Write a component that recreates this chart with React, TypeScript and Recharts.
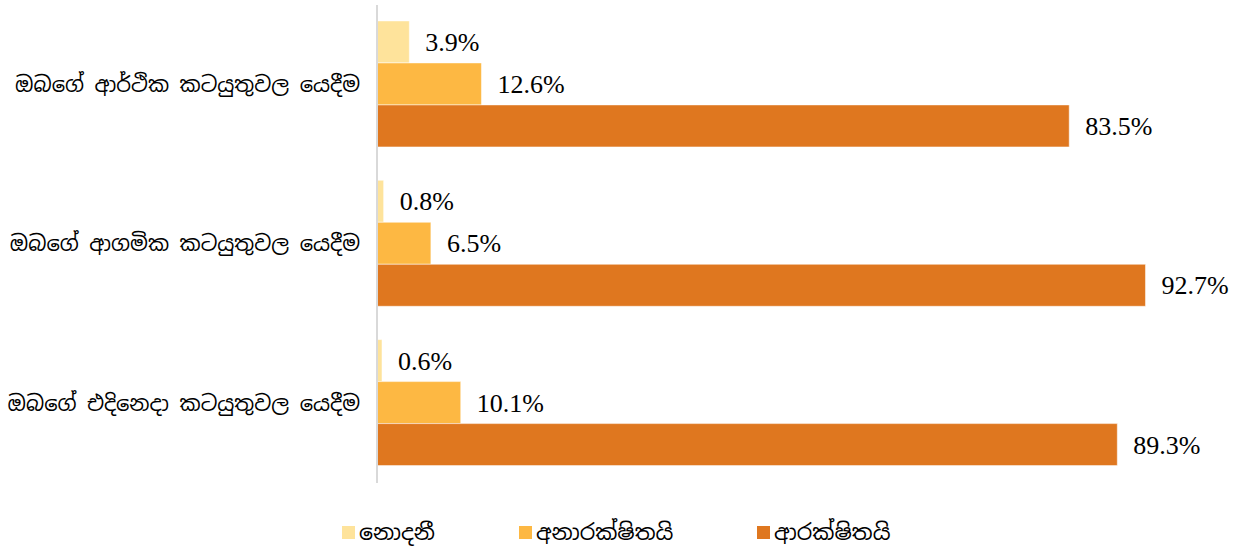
import React from "react";
import { BarChart, Bar, XAxis, YAxis, LabelList, Legend } from "recharts";

const categories = [
  "ඔබගේ ආර්ථික කටයුතුවල යෙදීම",
  "ඔබගේ ආගමික කටයුතුවල යෙදීම",
  "ඔබගේ එදිනෙදා කටයුතුවල යෙදීම",
];
const dontKnow = [3.9, 0.8, 0.6];
const unsafe = [12.6, 6.5, 10.1];
const safe = [83.5, 92.7, 89.3];

const seriesNames = ["නොදනී", "අනාරක්ෂිතයි", "ආරක්ෂිතයි"];
const colors = ["#FEE39B", "#FDB843", "#DF771F"];

const data = categories.map((name, i) => ({
  name,
  dontKnow: dontKnow[i],
  unsafe: unsafe[i],
  safe: safe[i],
}));

const sinhala = "'Noto Sans Sinhala', 'Iskoola Pota', 'Noto Serif Sinhala', sans-serif";
const serif = "'Liberation Serif', 'Times New Roman', serif";

const legendX = [342, 519, 757];

function LegendBox() {
  return (
    <div style={{ position: "relative", width: 1239, height: 30 }}>
      {seriesNames.map((n, i) => (
        <div
          key={n}
          style={{
            position: "absolute",
            left: legendX[i],
            top: 0,
            height: 30,
            display: "flex",
            alignItems: "center",
            fontFamily: sinhala,
            fontSize: 22,
            color: "#000",
            whiteSpace: "nowrap",
          }}
        >
          <span style={{ width: 13, height: 13, background: colors[i], marginRight: 4, display: "inline-block" }} />
          {n}
        </div>
      ))}
    </div>
  );
}

export default function App() {
  const fmt = (v: number) => `${v.toFixed(1)}%`;
  const labelStyle = { fontFamily: serif, fontSize: 26, fill: "#000" };
  return (
    <div style={{ position: "fixed", top: 0, left: 0, width: 1239, height: 547, background: "#fff" }}>
      <BarChart
        width={1239}
        height={547}
        data={data}
        layout="vertical"
        margin={{ top: 5, right: 33, left: 0, bottom: 34 }}
        barCategoryGap="10%"
        barGap={0}
      >
        <XAxis type="number" domain={[0, 100]} hide />
        <YAxis
          type="category"
          dataKey="name"
          width={377}
          tickLine={false}
          axisLine={{ stroke: "#D9D9D9", strokeWidth: 2 }}
          tickMargin={11}
          tick={{ fontFamily: sinhala, fontSize: 21, fill: "#000" }}
        />
        <Legend
          verticalAlign="bottom"
          wrapperStyle={{ left: 0, bottom: 0, width: 1239 }}
          content={() => <LegendBox />}
        />
        <Bar dataKey="dontKnow" name={seriesNames[0]} fill={colors[0]} stroke="#fff" strokeWidth={0.5} isAnimationActive={false}>
          <LabelList dataKey="dontKnow" position="right" offset={16} formatter={fmt} style={labelStyle} />
        </Bar>
        <Bar dataKey="unsafe" name={seriesNames[1]} fill={colors[1]} stroke="#fff" strokeWidth={0.5} isAnimationActive={false}>
          <LabelList dataKey="unsafe" position="right" offset={16} formatter={fmt} style={labelStyle} />
        </Bar>
        <Bar dataKey="safe" name={seriesNames[2]} fill={colors[2]} stroke="#fff" strokeWidth={0.5} isAnimationActive={false}>
          <LabelList dataKey="safe" position="right" offset={16} formatter={fmt} style={labelStyle} />
        </Bar>
      </BarChart>
    </div>
  );
}
